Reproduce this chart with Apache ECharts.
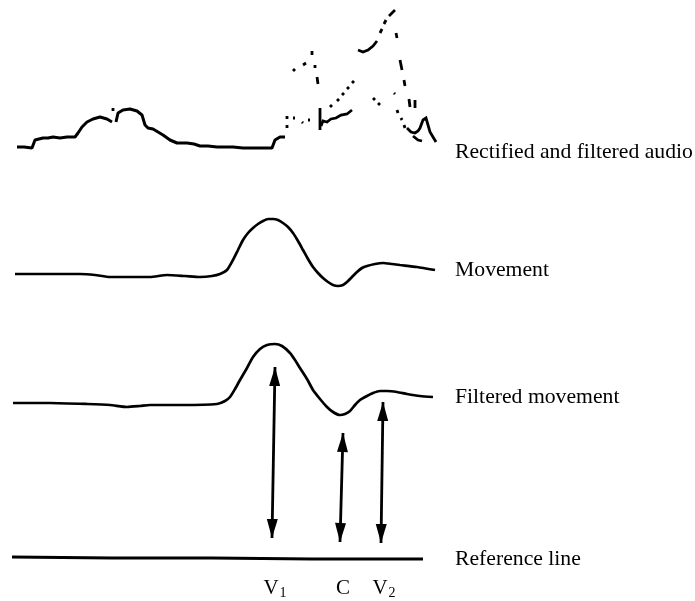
<!DOCTYPE html>
<html>
<head>
<meta charset="utf-8">
<script src="https://cdn.jsdelivr.net/npm/echarts@6/dist/echarts.min.js"></script>
<style>html,body{margin:0;padding:0;background:#fff}#c{width:695px;height:601px}</style>
</head>
<body>
<div id="c"></div>
<script>
// ---- DATA (x = time samples, y = amplitude above each trace's baseline) ----
const traceLabels = ['Rectified and filtered audio', 'Movement', 'Filtered movement', 'Reference line'];
const tickLabels = [['V', '1'], ['C', ''], ['V', '2']];

// Rectified and filtered audio: continuous part (null = gap)
const audioMain = [
  [5,3],[12,3],[20,2],[23,10],[27,11],[31,12],[36,12],[41,13],[48,12],[55,13],[63,13],[66,17],[70,23],[75,28],[81,31],[88,33],[95,31],[100,28],
  null,
  [104,28],[106,37],[111,40],[118,41],[125,39],[130,35],[133,25],[136,22],[141,21],[146,18],[151,15],[158,10],[165,7],[175,7],[182,6],[188,4],[196,4],[205,3],[213,3],[221,3],[231,2],[241,2],[251,2],[260,2],[263,10],[268,13],[273,13]
];
// Audio: fragmented high-amplitude part (each entry = one broken stroke)
const audioFragments = [
  [[101,42],[101,39]],
  [[275,34],[275,31]], [[275,25],[275,22]],
  [[281,32],[283,32]], [[290,28],[291,27]], [[296,30],[298,30]],
  [[308,42],[308,20]],
  [[309,24],[311,29],[315,28],[319,31],[324,32],[329,35],[335,36],[340,40]],
  [[318,43],[320,45]], [[325,49],[327,51]], [[330,55],[332,57]], [[335,61],[337,63]], [[340,67],[342,69]],
  [[281,79],[283,81]], [[291,85],[294,87]], [[300,99],[300,95]], [[303,85],[303,82]], [[305,73],[306,66]],
  [[346,100],[351,98],[356,100],[361,104],[365,109]],
  [[368,117],[370,121]], [[372,126],[374,130]], [[377,134],[380,137],[383,140]],
  [[384,117],[385,112]], [[388,90],[390,80]], [[392,70],[393,64]], [[397,51],[398,43]], [[403,50],[403,42]],
  [[361,52],[363,50]], [[366,47],[368,45]], [[382,57],[383,56]], [[385,40],[386,37]], [[389,32],[390,30]], [[392,25],[393,22]],
  [[395,22],[399,18],[403,17],[406,19],[408,22],[411,30],[414,32],[416,25],[418,18],[421,13],[424,8]],
  [[401,14],[406,10],[410,9]]
];

// Movement
const movement = [
  [3,16],[18,16],[38,16],[68,16],[83,15],[98,13],[118,13],[138,13],[155,15],[173,14],[188,13],[200,14],[208,16],[215,20],[221,30],[226,40],[231,50],[236,57],[241,62],[246,66],[251,69],[256,71],[261,71],[266,70],[271,67],[276,63],[281,57],[286,49],[291,40],[296,31],[301,23],[306,17],[311,12],[316,8],[321,5],[326,4],[331,5],[335,8],[340,13],[345,18],[350,22],[355,24],[363,26],[371,27],[380,26],[388,25],[405,23],[423,20]
];

// Filtered movement (same panel as arrows and reference line)
const filteredMovement = [
  [1,157],[38,157],[75,156],[98,155],[115,153],[128,154],[138,155],[171,155],[205,156],[213,159],[218,163],[223,171],[228,180],[235,192],[241,203],[248,211],[255,215],[263,216],[270,214],[278,207],[283,200],[288,192],[295,181],[301,170],[308,161],[315,153],[321,148],[328,145],[333,146],[338,149],[343,155],[348,160],[355,164],[361,167],[368,169],[375,169],[385,168],[395,166],[408,164],[421,163]
];
const referenceLine = [[0,3],[100,2],[200,2],[300,1],[411,1]];

// Double-headed measurement arrows: [top tip, bottom tip]
const arrowV1 = [[263,193],[260,22]];
const arrowC  = [[331,127],[328,18]];
const arrowV2 = [[371,158],[369,17]];
const arrows = [arrowV1, arrowC, arrowV2];

// ---- CHART ----
const ink = '#000';
const serif = '"Liberation Serif", "DejaVu Serif", serif';
const chart = echarts.init(document.getElementById('c'), null, {renderer: 'canvas'});

const grids = [
  {left: 12, width: 430, top: 0, height: 150},
  {left: 12, width: 430, top: 210, height: 80},
  {left: 12, width: 430, top: 330, height: 230}
];
const yMax = [150, 80, 230];
const hiddenAxis = {show: false};
const xAxes = grids.map((g, i) => Object.assign({type: 'value', gridIndex: i, min: 0, max: 430}, hiddenAxis));
const yAxes = grids.map((g, i) => Object.assign({type: 'value', gridIndex: i, min: 0, max: yMax[i]}, hiddenAxis));

const lineBase = {type: 'line', showSymbol: false, silent: true, connectNulls: false};

const labelY = [152.5, 270, 397, 559.5];
const graphics = traceLabels.map((t, i) => ({
  type: 'text', x: 455, y: labelY[i],
  style: {text: t, font: '21.7px ' + serif, fill: ink, verticalAlign: 'middle', align: 'left'}
}));
// tick labels under arrows
const tickX = [arrowV1[1][0] + 12, arrowC[1][0] + 12, arrowV2[1][0] + 12];
tickLabels.forEach((tl, i) => {
  graphics.push({
    type: 'text', x: tickX[i] + 3, y: 588.5,
    style: {
      text: '{m|' + tl[0] + '}' + (tl[1] ? '{s|' + tl[1] + '}' : ''),
      rich: {
        m: {font: '21px ' + serif, fill: ink},
        s: {font: '14px ' + serif, fill: ink, padding: [10, 0, 0, 1]}
      },
      align: 'center', verticalAlign: 'middle'
    }
  });
});

chart.setOption({
  animation: false,
  backgroundColor: '#fff',
  grid: grids,
  xAxis: xAxes,
  yAxis: yAxes,
  series: [
    Object.assign({}, lineBase, {name: traceLabels[0], xAxisIndex: 0, yAxisIndex: 0, data: audioMain,
      lineStyle: {color: ink, width: 3}}),
    {type: 'lines', name: 'audio fragments', coordinateSystem: 'cartesian2d', xAxisIndex: 0, yAxisIndex: 0,
      polyline: true, silent: true,
      lineStyle: {color: ink, width: 2.8, opacity: 1},
      data: audioFragments.map(c => ({coords: c}))},
    Object.assign({}, lineBase, {name: traceLabels[1], xAxisIndex: 1, yAxisIndex: 1, data: movement, smooth: 0.2,
      lineStyle: {color: ink, width: 2.7}}),
    Object.assign({}, lineBase, {name: traceLabels[2], xAxisIndex: 2, yAxisIndex: 2, data: filteredMovement, smooth: 0.2,
      lineStyle: {color: ink, width: 2.7}}),
    Object.assign({}, lineBase, {name: traceLabels[3], xAxisIndex: 2, yAxisIndex: 2, data: referenceLine,
      lineStyle: {color: ink, width: 3}}),
    {type: 'lines', name: 'arrows', coordinateSystem: 'cartesian2d', xAxisIndex: 2, yAxisIndex: 2, silent: true,
      data: [],
      markLine: {
        silent: true,
        symbol: ['triangle', 'triangle'],
        symbolSize: [11, 19],
        symbolOffset: [[0, '50%'], [0, '50%']],
        label: {show: false},
        emphasis: {disabled: true},
        lineStyle: {color: ink, width: 2.8, type: 'solid'},
        data: arrows.map(a => [{coord: a[0]}, {coord: a[1]}])
      }}
  ],
  graphic: graphics
});
</script>
</body>
</html>
